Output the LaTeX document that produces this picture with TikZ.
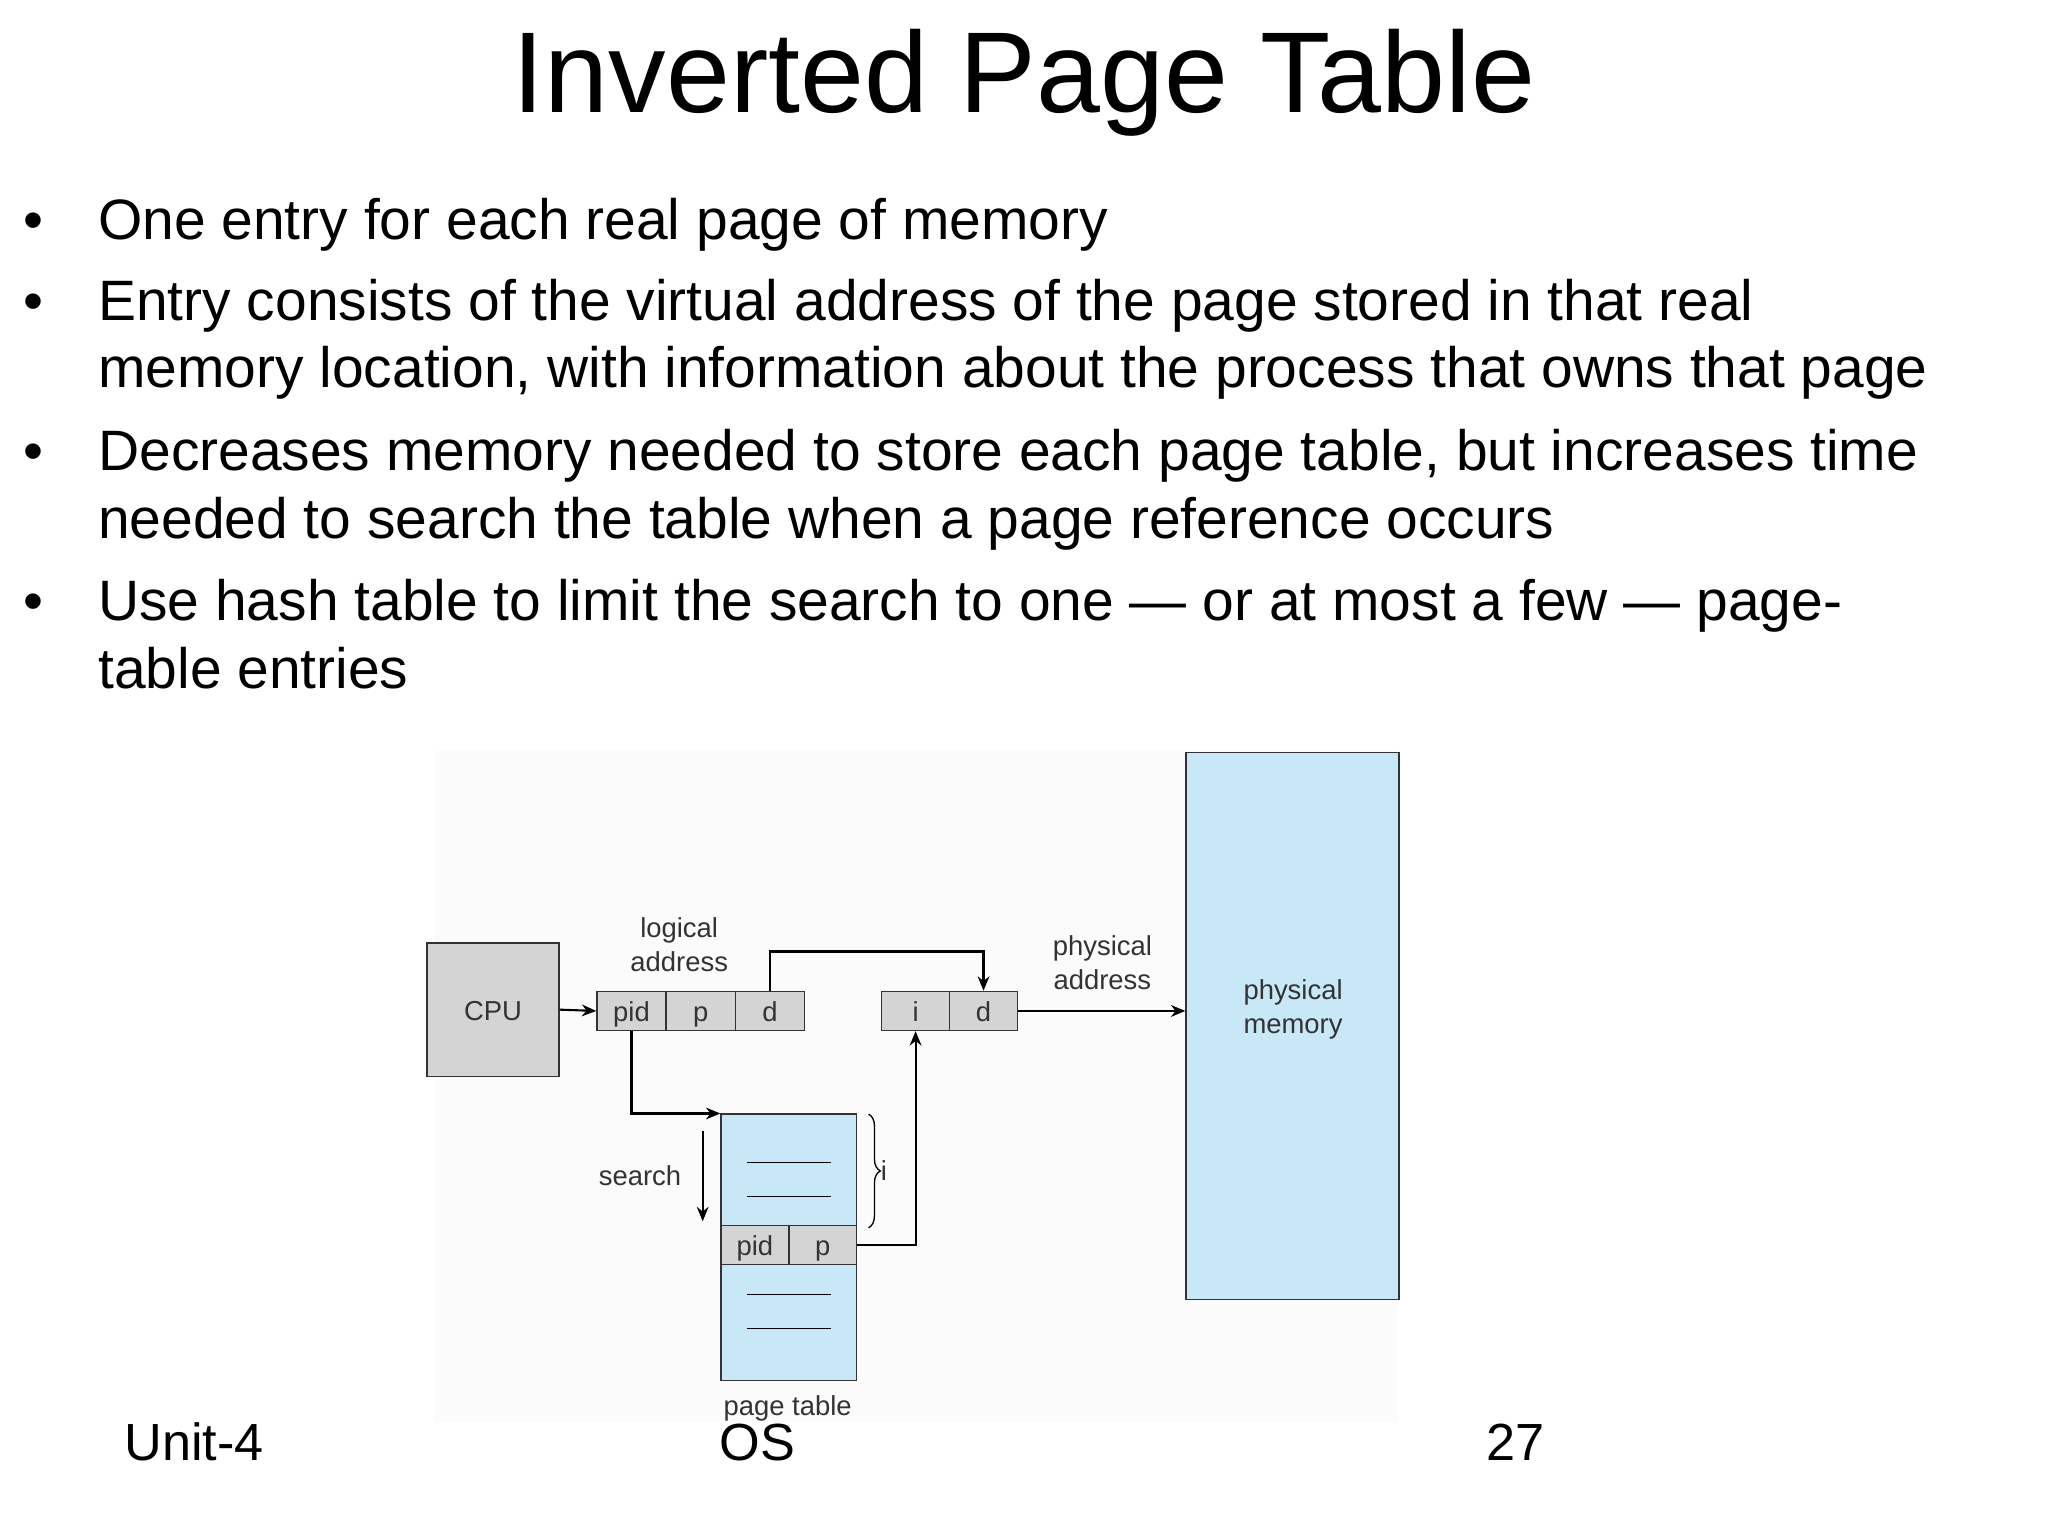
\documentclass[tikz,border=0pt]{standalone}
\usepackage{fontspec}
\setmainfont{Liberation Sans}
\usetikzlibrary{arrows.meta,decorations.pathreplacing}
\definecolor{boxgray}{HTML}{D4D4D4}
\definecolor{lblue}{HTML}{C8E8F8}
\definecolor{dtext}{HTML}{333333}
\begin{document}
\begin{tikzpicture}[x=1pt,y=-1pt,
  cell/.style={draw=black!80,fill=boxgray,line width=1pt,text height=16pt,text depth=0pt},
  blue/.style={draw=black!80,fill=lblue,line width=1pt},
  conn/.style={line width=1.6pt,-{Stealth[length=11pt,width=9pt]}},
  dl/.style={font=\fontsize{21}{24}\selectfont,text=dtext,align=center,inner sep=0},
  body/.style={font=\fontsize{43.6}{52}\selectfont,anchor=base west,inner sep=0}]
\useasboundingbox (0,0) rectangle (1568,1176);
\fill[white] (0,0) rectangle (1568,1176);
\fill[black!1.5] (332,575) rectangle (1070,1088);
\node[font=\fontsize{88}{96}\selectfont] (title) at (784,63) {Inverted Page Table};
\foreach \y in {183,245,360,475}{\node[body] at (18,\y) {•};}
\node[body] (b1) at (75,183) {One entry for each real page of memory};
\node[body] (b2) at (75,245) {Entry consists of the virtual address of the page stored in that real};
\node[body] (b2b) at (75,297) {memory location, with information about the process that owns that page};
\node[body] (b3) at (75,360) {Decreases memory needed to store each page table, but increases time};
\node[body] (b3b) at (75,412) {needed to search the table when a page reference occurs};
\node[body] (b4) at (75,475) {Use hash table to limit the search to one — or at most a few — page-};
\node[body] (b4b) at (75,527) {table entries};
% diagram
\node[cell,minimum width=101pt,minimum height=102pt,dl] (cpu) at (377.5,773) {CPU};
\node[cell,minimum width=53pt,minimum height=30pt,dl] (lpid) at (483.5,774) {pid};
\node[cell,minimum width=53pt,minimum height=30pt,dl] (lp) at (536.5,774) {p};
\node[cell,minimum width=53pt,minimum height=30pt,dl] (ld) at (589.5,774) {d};
\node[cell,minimum width=52pt,minimum height=30pt,dl] (pi) at (701,774) {i};
\node[cell,minimum width=52pt,minimum height=30pt,dl] (pd) at (753,774) {d};
\node[blue,minimum width=163pt,minimum height=419pt,dl] (mem) at (989.5,785.5) {};
\node[dl,anchor=center] at (990,773) {physical\\[2pt]memory};
\node[blue,minimum width=104pt,minimum height=85pt] (pt1) at (604,895.5) {};
\node[cell,minimum width=52pt,minimum height=30pt,dl] (tpid) at (578,953) {pid};
\node[cell,minimum width=52pt,minimum height=30pt,dl] (tp) at (630,953) {p};
\node[blue,minimum width=104pt,minimum height=89pt] (pt2) at (604,1012.5) {};
\foreach \y in {890,916,991,1017}{\draw[line width=1pt] (572,\y) -- (636,\y);}
\node[dl] (la) at (520,723) {logical\\[2pt]address};
\node[dl] (pa) at (844,737) {physical\\[2pt]address};
\node[dl] (srch) at (490,900) {search};
\node[dl,anchor=north] (ptl) at (603,1068) {page table};
\coordinate (sa) at (538,866); \coordinate (sb) at (538,935);
\draw[conn] (sa) -- (sb);
\draw[conn] (cpu.east) -- (lpid.west);
\draw[conn] (lpid.south) |- (pt1.north west);
\draw[conn] (ld.north) |- ++(0,-30) -| (pd.north);
\draw[conn] (tp.east) -| (pi.south);
\draw[conn] (pd.east) -- (mem.west |- pd.east);
\draw[decorate,decoration={brace,amplitude=9pt},line width=1pt] (665,853) -- (665,940) node[midway,right=9pt,dl] {i};
\node[font=\fontsize{40}{48}\selectfont,anchor=base west,inner sep=0] (u4) at (95,1118) {Unit-4};
\node[font=\fontsize{40}{48}\selectfont,anchor=base west,inner sep=0] (os) at (551,1118) {OS};
\node[font=\fontsize{40}{48}\selectfont,anchor=base west,inner sep=0] (pg) at (1138,1118) {27};
\end{tikzpicture}
\end{document}
